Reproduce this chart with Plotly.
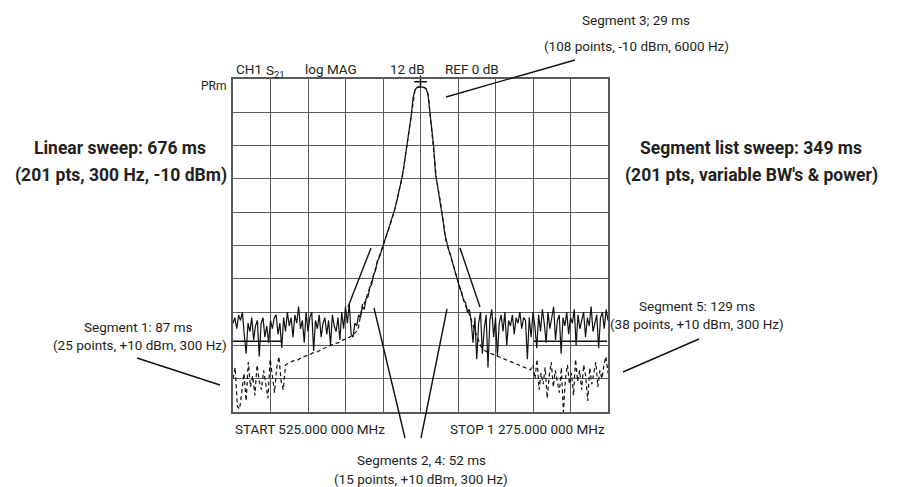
import numpy as np
import plotly.graph_objects as go

# ---------------- data ----------------
start_mhz = 525.0
stop_mhz = 1275.0
linear_points = 201

# Linear sweep (solid trace), 201 points, dB
linear_db = [
    -88, -86, -90, -85, -87, -84, -92, -99, -88, -91,
    -86, -94, -89, -87, -100, -88, -86, -93, -89, -95,
    -87, -90, -86, -85, -92, -88, -97, -86, -91, -84,
    -89, -86, -93, -85, -88, -82, -90, -87, -95, -84,
    -91, -86, -84, -98, -87, -90, -85, -93, -88, -86,
    -92, -87, -96, -85, -89, -91, -86, -94,
    -84, -90, -82, -88, -81, -92,
    -93, -88, -89, -85, -86, -82, -83, -79, -78.5, -75,
    -74, -70.5, -69, -65.5, -64.5, -62, -60, -58, -56, -54,
    -52, -50, -47.5, -45, -42, -39.5, -36, -32, -27.5, -23.5,
    -18.5, -13.5, -7, -4, -3.1, -2.9, -2.8, -2.9, -3.1, -3.6,
    -5.5, -12, -18, -24, -34, -38, -42, -46, -51, -56,
    -59, -61.5, -63.5, -66, -68.5, -71, -73, -75.5, -77, -80,
    -80.5, -84, -83, -87,
    -95, -86, -101, -88, -84, -99, -90, -85, -104, -87,
    -83, -93, -86, -100, -88, -85, -91, -84, -96, -87,
    -89, -85, -92, -86, -88, -84, -90, -86, -87, -101,
    -86, -93, -84, -89, -97, -85, -91, -83, -88, -95,
    -84, -90, -86, -82, -94, -87, -85, -99, -86, -89,
    -84, -92, -86, -88, -83, -96, -85, -90, -87, -84,
    -93, -86, -89, -82, -91, -88, -85, -97, -86, -84,
    -90, -83, -87,
]

# Segment list sweep (dashed trace)
seg_start = [525, 635, 780, 1005, 1125]
seg_stop = [630, 775, 1000, 1120, 1275]
seg_points = [25, 15, 108, 15, 38]

seg1_db = [-108, -104, -118, -119, -113, -106, -116, -102, -111, -107,
           -114, -103, -109, -112, -105, -110, -115, -101, -108, -113,
           -104, -100, -109, -112, -103]
seg2_db = [-102.5, -101.6, -101.2, -100.1, -99.6, -98.7, -98.2, -97.1,
           -96.6, -95.5, -95.1, -94.0, -93.4, -92.2, -90.5]
seg3_db = [
    -84, -83, -81, -81.5, -80.5, -80, -78.5, -77.5, -76.5, -75.5,
    -74, -72.5, -71.5, -70, -69, -68, -66.5, -65, -64, -63,
    -62, -61, -60, -59, -58, -56.5, -55.5, -54.5, -53.5, -52.5,
    -51, -50, -49, -47.5, -46, -44.5, -43, -41.5, -40, -38.5,
    -36.5, -34.5, -32, -29.5, -27, -24.5, -22, -19.5, -17, -14.5,
    -12, -8.5, -5.5, -4, -3.3, -3.0, -2.9, -2.8, -2.8, -2.8,
    -2.9, -2.9, -3.0, -3.2, -3.6, -4.5, -6, -10, -14, -17,
    -20, -24, -30, -34, -36.5, -38.5, -40.5, -42.5, -44.5, -47,
    -50, -53.5, -56, -58, -59.5, -60.5, -62, -63, -64, -65.5,
    -67, -68, -69.5, -71, -72, -73, -74.5, -75.5, -77, -78,
    -79, -80.5, -81, -82.5, -83, -84.5, -85, -86,
]
seg4_db = [-89, -93, -96.5, -98, -98.7, -99.3, -99.9, -100.6, -101.2,
           -101.8, -102.4, -103, -103.6, -104.2, -104.8]
seg5_db = [-103, -108, -101, -112, -106, -110, -104, -115, -107, -102,
           -111, -105, -109, -113, -104, -120, -108, -103, -110, -106,
           -114, -101, -109, -105, -112, -103, -107, -116, -104, -110,
           -106, -102, -111, -105, -108, -103, -100, -106]

# Limit lines
limit_freq = [525, 623, None, 1126, 1273]
limit_db = [-94.5, -94.5, None, -94.5, -94.5]

marker_freq = [900]
marker_db = [-1]

# ---------------- build ----------------
lin_f = np.linspace(start_mhz, stop_mhz, linear_points)
seg_f = np.concatenate([np.linspace(a, b, n) for a, b, n in zip(seg_start, seg_stop, seg_points)])
seg_db = seg1_db + seg2_db + seg3_db + seg4_db + seg5_db

FONT = "Roboto, DejaVu Sans Condensed, sans-serif"
TXT = "#231f20"
GRID = "#5a5a5a"
REG = 13.5
BIG = 17.5

fig = go.Figure()
fig.add_trace(go.Scatter(x=limit_freq, y=limit_db, mode="lines",
                         line=dict(color="#111", width=1.3), hoverinfo="skip"))
fig.add_trace(go.Scatter(x=seg_f, y=seg_db, mode="lines",
                         line=dict(color="#111", width=1.2, dash="4px,3px")))
fig.add_trace(go.Scatter(x=lin_f, y=linear_db, mode="lines",
                         line=dict(color="#111", width=1.2)))
fig.add_trace(go.Scatter(x=marker_freq, y=marker_db, mode="markers",
                         marker=dict(symbol="cross-thin", size=9,
                                     line=dict(color="#111", width=1.5)),
                         cliponaxis=False))

fig.update_xaxes(range=[start_mhz, stop_mhz], tick0=start_mhz, dtick=75,
                 showticklabels=False, showgrid=True, gridcolor=GRID, gridwidth=1.3,
                 zeroline=False, showline=True, linecolor=GRID, linewidth=1.5,
                 mirror=True, ticks="")
fig.update_yaxes(range=[-120, 0], tick0=-120, dtick=12,
                 showticklabels=False, showgrid=True, gridcolor=GRID, gridwidth=1.3,
                 zeroline=False, showline=True, linecolor=GRID, linewidth=1.5,
                 mirror=True, ticks="")

L, R, T, B = 233, 295, 79, 75
W, H = 903, 487
PW, PH = W - L - R, H - T - B


def px(x):
    return (x - L) / PW


def py(y):
    return (H - B - y) / PH


ann = []


def text(t, x, y, size=REG, anchor="center", bold=False):
    if bold:
        t = "<b>" + t + "</b>"
    ann.append(dict(text=t, x=px(x), y=py(y), xref="paper", yref="paper",
                    xanchor=anchor, yanchor="middle", showarrow=False,
                    font=dict(family=FONT, size=size, color=TXT)))


text("Segment 3; 29 ms", 636, 20)
text("(108 points, -10 dBm, 6000 Hz)", 636, 46)
text("CH1", 234, 69.5, anchor="left")
text("S<sub>21</sub>", 264, 71, anchor="left")
text("log MAG", 303, 69.5, anchor="left")
text("12 dB", 388, 69.5, anchor="left")
text("REF 0 dB", 443, 69.5, anchor="left")
text("PRm", 229, 86, size=12, anchor="right")
text("Linear sweep: 676 ms", 120, 148, size=BIG, bold=True)
text("(201 pts, 300 Hz, -10 dBm)", 120.5, 175, size=BIG, bold=True)
text("Segment list sweep: 349 ms", 751, 148, size=BIG, bold=True)
text("(201 pts, variable BW's &amp; power)", 751, 175, size=BIG, bold=True)
text("Segment 1: 87 ms", 138, 327)
text("(25 points, +10 dBm, 300 Hz)", 140, 345)
text("Segment 5: 129 ms", 697, 306)
text("(38 points, +10 dBm, 300 Hz)", 697, 324)
text("START 525.000 000 MHz", 233, 429, anchor="left")
text("STOP 1 275.000 000 MHz", 607, 429, anchor="right")
text("Segments 2, 4: 52 ms", 421, 460)
text("(15 points, +10 dBm, 300 Hz)", 421, 479)

leaders = [
    ((446, 97), (575, 60)),
    ((137, 358), (220, 385)),
    ((623, 372), (699, 339)),
    ((374, 308), (405, 438)),
    ((447, 309), (421, 438)),
    ((348, 307), (371, 248)),
    ((460, 248), (480, 307)),
]
shapes = [dict(type="line", xref="paper", yref="paper",
               x0=px(a[0]), y0=py(a[1]), x1=px(b[0]), y1=py(b[1]),
               line=dict(color="#111", width=1.4))
          for a, b in leaders]

fig.update_layout(width=W, height=H, autosize=False,
                  margin=dict(l=L, r=R, t=T, b=B),
                  paper_bgcolor="white", plot_bgcolor="white",
                  showlegend=False, annotations=ann, shapes=shapes,
                  font=dict(family=FONT, color=TXT))

fig.write_html("out.html", config={"displayModeBar": False},
               post_script="document.body.style.margin='0';document.body.style.overflow='hidden';")
